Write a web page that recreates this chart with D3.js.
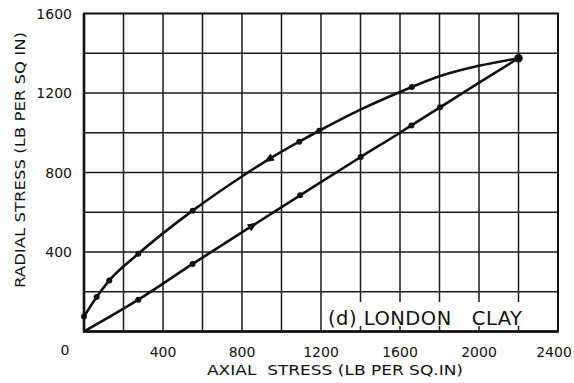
<!DOCTYPE html>
<html>
<head>
<meta charset="utf-8">
<script src="https://cdn.jsdelivr.net/npm/d3@7"></script>
<style>
  html, body { margin: 0; padding: 0; background: #fff; }
  svg { display: block; }
  text { font-family: "DejaVu Sans", sans-serif; fill: #111; }
</style>
</head>
<body>
<svg id="chart" width="574" height="383"></svg>
<script>
// Axial stress (x) and radial stress (y), lb per sq in
const loadingAxial   = [0, 275, 550, 857, 1094, 1401, 1600, 1658, 1803, 2005, 2200];
const loadingRadial  = [0, 160, 340, 535, 685, 878, 1000, 1037, 1128, 1255, 1375];
const unloadingAxial  = [0, 64, 128, 275, 550, 807, 933, 1090, 1191, 1397, 1600, 1660, 1803, 2005, 2200];
const unloadingRadial = [75, 173, 257, 391, 608, 785, 865, 955, 1010, 1115, 1205, 1230, 1285, 1338, 1375];

// Measured points marked with dots, and direction arrows along each path
const loadingDots    = [[275, 160], [550, 340], [1094, 685], [1401, 878], [1658, 1037], [1803, 1128]];
const unloadingDots  = [[0, 75], [64, 173], [128, 257], [275, 391], [550, 608], [1090, 955], [1191, 1010], [1660, 1230]];
const loadingArrows   = [[857, 535]];
const unloadingArrows = [[933, 865]];
const peakPoint = [2200, 1375];

const xTickValues = [400, 800, 1200, 1600, 2000, 2400];
const yTickValues = [400, 800, 1200, 1600];
const gridStep = 200;

const xTitle = "AXIAL  STRESS (LB PER SQ.IN)";
const yTitle = "RADIAL STRESS (LB PER SQ IN)";
const panelLabel = "(d) LONDON   CLAY";

const svg = d3.select("#chart");
const x = d3.scaleLinear().domain([0, 2400]).range([84, 558]);
const y = d3.scaleLinear().domain([0, 1600]).range([331.5, 13.5]);

// Grid
const g = svg.append("g");
const xGrid = d3.range(gridStep, 2400, gridStep);
const yGrid = d3.range(gridStep, 1600, gridStep);
g.selectAll(".vg").data(xGrid).join("line")
  .attr("x1", d => x(d)).attr("x2", d => x(d))
  .attr("y1", y(1600)).attr("y2", y(0))
  .attr("stroke", "#1a1a1a").attr("stroke-width", 1.5);
g.selectAll(".hg").data(yGrid).join("line")
  .attr("y1", d => y(d)).attr("y2", d => y(d))
  .attr("x1", x(0)).attr("x2", x(2400))
  .attr("stroke", "#1a1a1a").attr("stroke-width", 1.5);

// Panel label on a white patch
svg.append("rect")
  .attr("x", x(1212)).attr("y", y(148))
  .attr("width", x(2395) - x(1212)).attr("height", y(28) - y(148))
  .attr("fill", "#fff");
svg.append("text")
  .attr("x", 328).attr("y", y(32))
  .attr("font-size", 19.5)
  .attr("textLength", 194).attr("lengthAdjust", "spacing")
  .style("white-space", "pre")
  .text(panelLabel);

// Frame
svg.append("rect")
  .attr("x", x(0)).attr("y", y(1600))
  .attr("width", x(2400) - x(0)).attr("height", y(0) - y(1600))
  .attr("fill", "none").attr("stroke", "#111").attr("stroke-width", 2);
svg.append("path")
  .attr("d", `M${x(0)},${y(1600)}V${y(0)}H${x(2400)}`)
  .attr("fill", "none").attr("stroke", "#111").attr("stroke-width", 2.6);

// Curves
const line = d3.line().x(d => x(d[0])).y(d => y(d[1])).curve(d3.curveMonotoneX);
const loading = loadingAxial.map((a, i) => [a, loadingRadial[i]]);
const unloading = unloadingAxial.map((a, i) => [a, unloadingRadial[i]]);
[loading, unloading].forEach(pts => {
  svg.append("path").datum(pts).attr("d", line)
    .attr("fill", "none").attr("stroke", "#111").attr("stroke-width", 2.6)
    .attr("stroke-linejoin", "round");
});

// Dots
svg.selectAll(".dot").data(loadingDots.concat(unloadingDots)).join("circle")
  .attr("cx", d => x(d[0])).attr("cy", d => y(d[1])).attr("r", 3)
  .attr("fill", "#111");
svg.append("circle").attr("cx", x(peakPoint[0])).attr("cy", y(peakPoint[1]))
  .attr("r", 4.2).attr("fill", "#111");

// Arrowheads, oriented along the local direction of travel
function arrowAngle(pts, p, forward) {
  const i = pts.findIndex(q => q[0] === p[0] && q[1] === p[1]);
  const a = pts[Math.max(0, i - 1)], b = pts[Math.min(pts.length - 1, i + 1)];
  const ang = Math.atan2(y(b[1]) - y(a[1]), x(b[0]) - x(a[0])) * 180 / Math.PI;
  return forward ? ang : ang + 180;
}
const arrows = loadingArrows.map(p => ({p, ang: arrowAngle(loading, p, true)}))
  .concat(unloadingArrows.map(p => ({p, ang: arrowAngle(unloading, p, false)})));
svg.selectAll(".arrow").data(arrows).join("path")
  .attr("d", "M5,0L-5,-4L-5,4Z")
  .attr("transform", d => `translate(${x(d.p[0])},${y(d.p[1])}) rotate(${d.ang})`)
  .attr("fill", "#111");

// Tick labels
svg.selectAll(".xt").data(xTickValues).join("text")
  .attr("x", d => Math.min(x(d), 554)).attr("y", 357)
  .attr("text-anchor", "middle").attr("font-size", 14)
  .text(d => d);
svg.append("text").attr("x", 65).attr("y", 355)
  .attr("text-anchor", "middle").attr("font-size", 14).text("0");
svg.selectAll(".yt").data(yTickValues).join("text")
  .attr("x", 72).attr("y", d => y(d)).attr("dy", "0.36em")
  .attr("text-anchor", "end").attr("font-size", 14)
  .text(d => d);

// Axis titles
svg.append("text")
  .attr("x", 207).attr("y", 375).attr("font-size", 13.5)
  .attr("textLength", 256).attr("lengthAdjust", "spacingAndGlyphs")
  .style("white-space", "pre")
  .text(xTitle);
svg.append("text")
  .attr("transform", "translate(25,160) rotate(-90)")
  .attr("text-anchor", "middle").attr("font-size", 13.5)
  .attr("textLength", 256).attr("lengthAdjust", "spacingAndGlyphs")
  .text(yTitle);
</script>
</body>
</html>
